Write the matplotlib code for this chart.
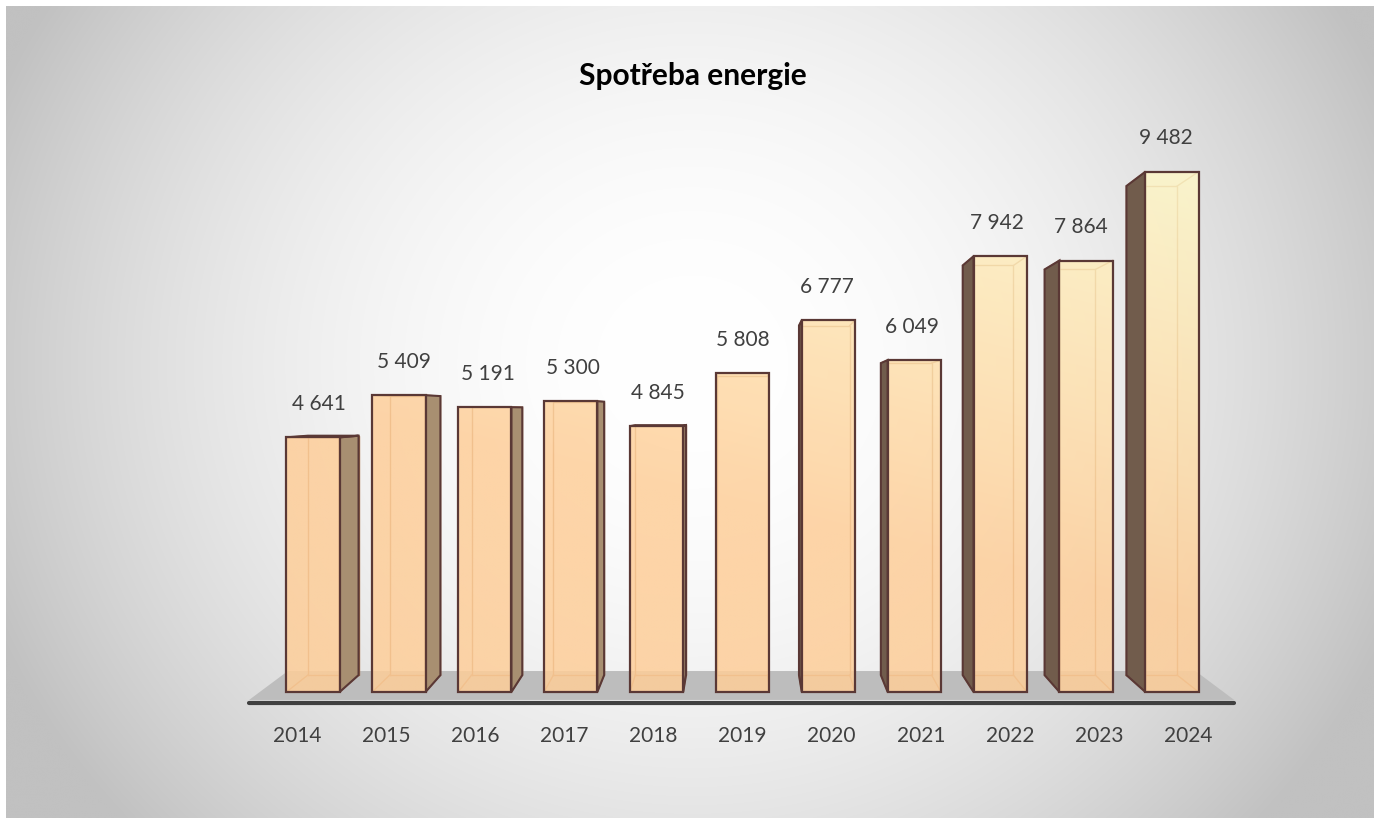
import numpy as np
import matplotlib
matplotlib.use('Agg')
from matplotlib import pyplot as plt
from matplotlib.patches import Polygon
from matplotlib.colors import to_rgb

plt.rcParams['font.family'] = ['Lato', 'DejaVu Sans']

title = 'Spotřeba energie'
years = ['2014', '2015', '2016', '2017', '2018', '2019', '2020', '2021', '2022', '2023', '2024']
values = [4641, 5409, 5191, 5300, 4845, 5808, 6777, 6049, 7942, 7864, 9482]

W, H = 1376, 818

# fake 3D: the back face of every box is pulled towards a vanishing point
HALF = 0.31          # half of the bar width (category units)
KX, KY = 0.047, 0.06  # how much the back face moves towards the vanishing point
VP_X = (len(values) - 1) / 2
VP_Y = 5137

EDGE = '#5A3835'
HIDDEN = '#B07A52'
PEACH = '#FECE99'
CREAM = '#FFF7C8'


def proj(x, y, t):
    """point (x, y) pushed back to depth t"""
    return x + t * KX * (VP_X - x), y + t * KY * (VP_Y - y)


fig = plt.figure(figsize=(W / 100, H / 100), dpi=100)
fig.patch.set_facecolor('white')

# radial grey background of the chart area
bg = fig.add_axes([0, 0, 1, 1])
bg.axis('off')
yy, xx = np.mgrid[0:H, 0:W]
r = np.sqrt(((xx - 690) / 760) ** 2 + ((yy - 360) / 700) ** 2)
shade = 1 - (62 / 255) * np.clip(r, 0, 1) ** 2
bg.imshow(np.dstack([shade] * 3), extent=(6, W - 2, H, 6), interpolation='bilinear')
bg.set_xlim(0, W)
bg.set_ylim(H, 0)

# main axes, placed so that one category = 85.9 px and one unit = 0.05487 px
X0_PX, DX_PX = 313, 85.9
Y0_PX, DY_PX = 692, 0.05487
xlim = (-1, 11)
ylim = (-400, 10500)
left_px = X0_PX + xlim[0] * DX_PX
right_px = X0_PX + xlim[1] * DX_PX
bottom_px = Y0_PX - ylim[0] * DY_PX
top_px = Y0_PX - ylim[1] * DY_PX
ax = fig.add_axes([left_px / W, 1 - bottom_px / H, (right_px - left_px) / W, (bottom_px - top_px) / H])
ax.patch.set_alpha(0)

# floor
fl, fr = -0.62, 10.6
floor = [proj(fl, 0, -0.47), proj(fr, 0, -0.47), proj(fr, 0, 1.24), proj(fl, 0, 1.24)]
ax.add_patch(Polygon(floor, closed=True, facecolor='#BDBDBD', edgecolor='none', zorder=1))
ax.plot([floor[0][0], floor[1][0]], [floor[0][1] - 55, floor[1][1] - 55],
        color='#404040', lw=3, solid_capstyle='round', zorder=1)

# colour gradient used for the front faces
gx = np.linspace(xlim[0], xlim[1], 300)
gy = np.linspace(0, ylim[1], 300)
GX, GY = np.meshgrid(gx, gy)
f = np.clip((0.4 * GX / 10 + GY / max(values) - 0.55) / 0.85, 0, 1)
c0, c1 = np.array(to_rgb(PEACH)), np.array(to_rgb(CREAM))
grad = c0 + f[..., None] * (c1 - c0)

for i, v in enumerate(values):
    fl_, fr_ = (i - HALF, 0), (i + HALF, 0)
    frt, flt = (i + HALF, v), (i - HALF, v)
    front = [fl_, fr_, frt, flt]
    back = [proj(x, y, 1) for x, y in front]

    # hidden edges, seen through the transparent front
    bx, by = zip(*(back + [back[0]]))
    ax.plot(bx, by, color=HIDDEN, lw=1, zorder=2)
    for p, q in zip(front, back):
        ax.plot([p[0], q[0]], [p[1], q[1]], color=HIDDEN, lw=1, zorder=2)

    if i < VP_X:
        side = [front[1], back[1], back[2], front[2]]
        ax.add_patch(Polygon(side, closed=True, facecolor='#A88F71', edgecolor=EDGE, lw=1.5, zorder=3))
    elif i > VP_X:
        side = [front[0], back[0], back[3], front[3]]
        ax.add_patch(Polygon(side, closed=True, facecolor='#715C4C', edgecolor=EDGE, lw=1.5, zorder=3))

    if v < VP_Y:
        top = [front[3], front[2], back[2], back[3]]
        ax.add_patch(Polygon(top, closed=True, facecolor=PEACH, edgecolor=EDGE, lw=1.5, zorder=3))

    face = Polygon(front, closed=True, facecolor='none', edgecolor=EDGE, lw=1.6, zorder=5)
    ax.add_patch(face)
    im = ax.imshow(grad, extent=(xlim[0], xlim[1], 0, ylim[1]), origin='lower',
                   aspect='auto', alpha=0.85, zorder=4, interpolation='bilinear')
    im.set_clip_path(face)

    lx = proj(i, v, 0.3)[0]
    ax.annotate(f'{v:,}'.replace(',', ' '), xy=(lx, v), xytext=(0, 24), textcoords='offset points',
                ha='center', va='center', fontsize=15, color='#404040')

ax.set_xlim(*xlim)
ax.set_ylim(*ylim)
ax.set_xticks([proj(i, 0, -0.8)[0] for i in range(len(years))])
ax.set_xticklabels(years, fontsize=15, color='#404040')
ax.tick_params(axis='x', length=0, pad=9)
ax.set_yticks([])
for s in ax.spines.values():
    s.set_visible(False)

fig.text(693 / W, 1 - 76 / H, title, ha='center', va='center', fontsize=21.5, fontweight='bold', color='black')

fig.savefig('out.png', dpi=100)
